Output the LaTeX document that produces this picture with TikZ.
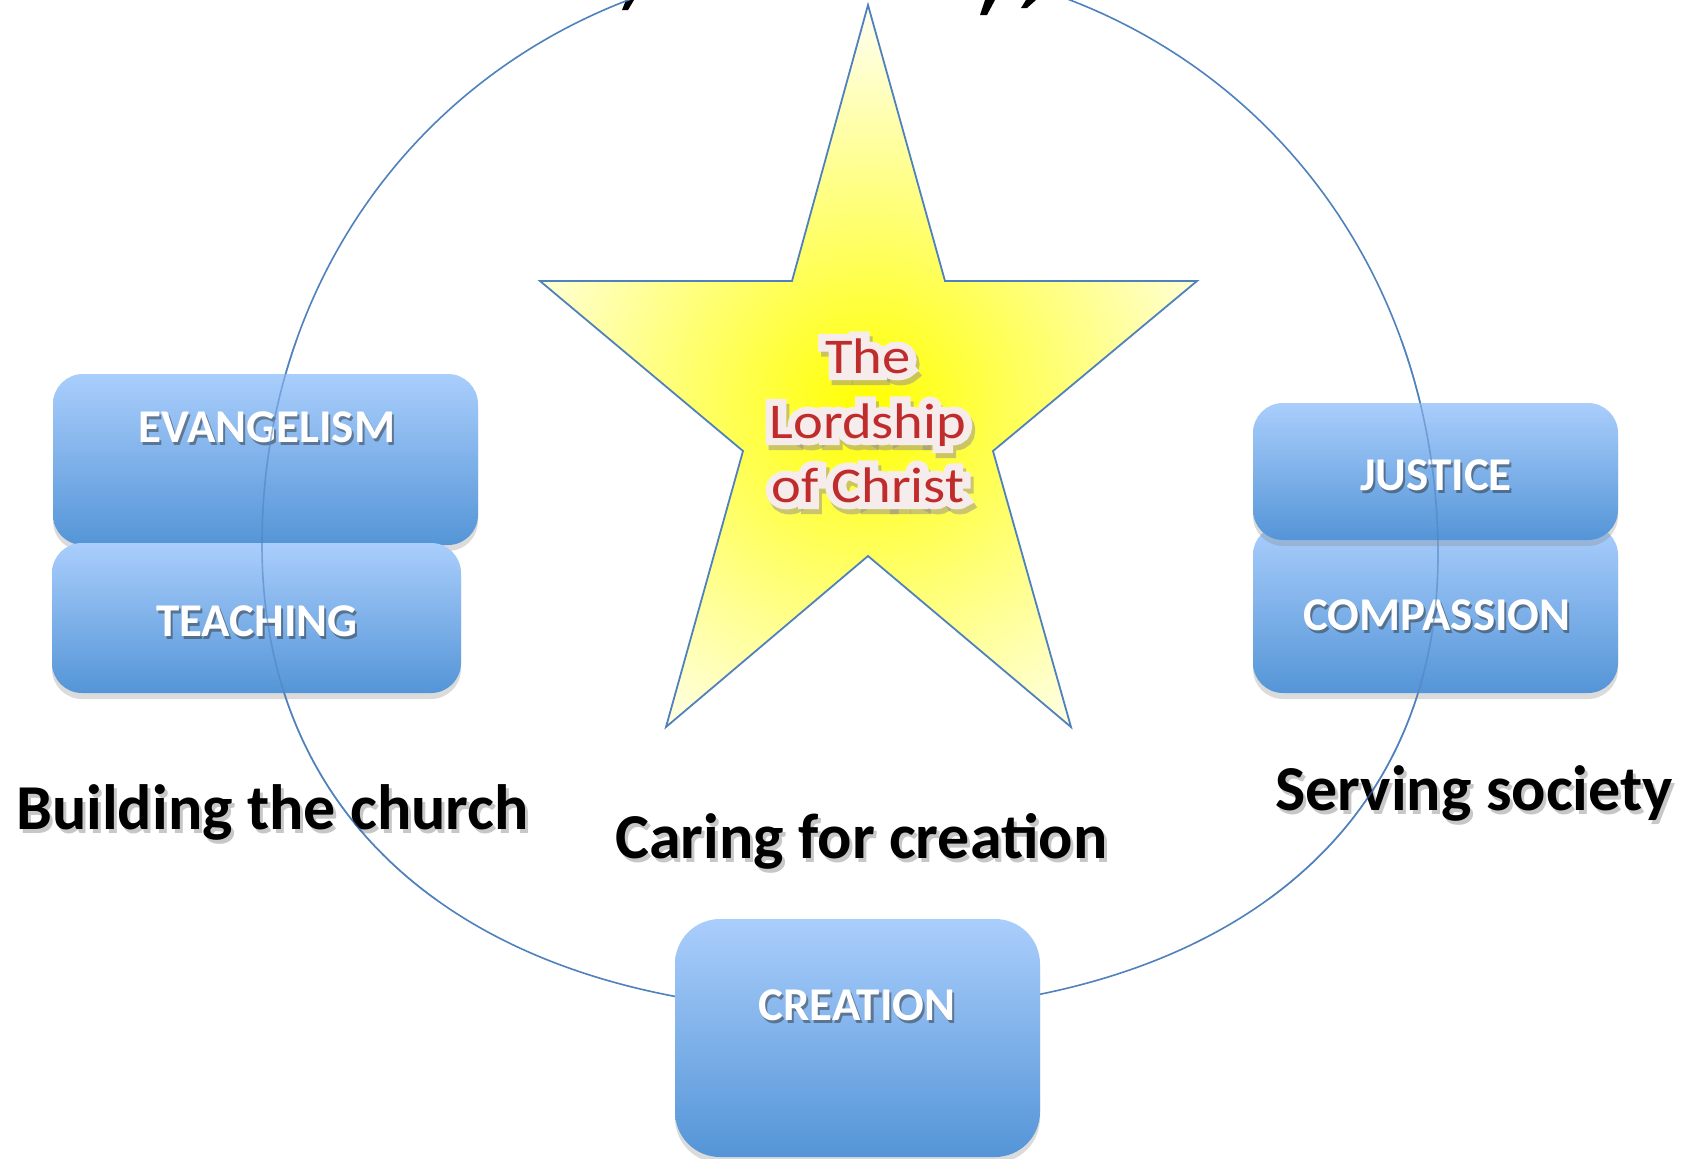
\documentclass[tikz,border=0pt]{standalone}
\usepackage{fontspec}
\setmainfont{Carlito}
\newfontfamily\halofont[FakeBold=28]{Carlito}
\usetikzlibrary{shadows}

\definecolor{ringc}{RGB}{79,129,189}
\definecolor{boxtop}{RGB}{170,206,252}
\definecolor{boxbot}{RGB}{84,149,215}
\definecolor{lordred}{RGB}{192,44,44}
\definecolor{haloc}{RGB}{246,236,236}
\definecolor{haloshadow}{RGB}{150,140,140}

\tikzset{
  ring/.style={draw=ringc, line width=1.6pt},
  mbox/.style={draw=none, rounded corners=#1, top color=boxtop, bottom color=boxbot, inner sep=0pt,
    drop shadow={shadow xshift=0pt, shadow yshift=-6pt, opacity=0.28}},
  boxlab/.style={text=white, inner sep=0pt, font=\fontsize{47}{50}\selectfont\bfseries},
  biglab/.style={text=black, inner sep=0pt, font=\fontsize{64}{70}\selectfont\bfseries},
  startxt/.style={inner sep=0pt, font=\fontsize{50}{55}\selectfont},
  halotxt/.style={inner sep=0pt, font=\fontsize{50}{55}\halofont},
  starline/.style={draw=ringc, line width=1.8pt, line join=miter},
}

\newcommand\wlabel[4]{%
  \node[boxlab, text=black!85, opacity=0.45, anchor=base, xshift=2pt, yshift=-3pt] at (#2,#3) {#4};
  \node[boxlab, anchor=base] (#1) at (#2,#3) {#4};
}
\newcommand\blabel[4]{%
  \node[biglab, text=black, opacity=0.22, anchor=base west, xshift=3pt, yshift=-4pt] at (#2,#3) {#4};
  \node[biglab, anchor=base west] (#1) at (#2,#3) {#4};
}
\newcommand\slabel[4]{%
  \node[halotxt, text=haloshadow, opacity=0.5, anchor=base, xshift=3pt, yshift=-5pt] at (#2,#3) {\scalebox{1.13}[1]{#4}};
  \node[halotxt, text=haloc, anchor=base] at (#2,#3) {\scalebox{1.13}[1]{#4}};
  \node[startxt, text=lordred, anchor=base] (#1) at (#2,#3) {\scalebox{1.13}[1]{#4}};
}

\begin{document}
\begin{tikzpicture}[x=1pt,y=-1pt]
\useasboundingbox (0,0) rectangle (1684,1159);
\clip (0,0) rectangle (1684,1159);
\fill[white] (0,0) rectangle (1684,1159);

% cut-off title marks at the top edge
\fill[black] (626,0) -- (634,0) -- (628,10) -- (622,10) -- cycle;
\fill[black] (985,0) -- (995,0) -- (987,15) -- (980,15) -- cycle;
\fill[black] (1026,0) -- (1036,0) -- (1027,8) -- (1021,8) -- cycle;

% ring
\draw[ring] (850,-40) .. controls (1185,-40) and (1438,216) .. (1438,555)
  .. controls (1438,838) and (1215,1012) .. (852,1012)
  .. controls (486,1012) and (262,835) .. (262,545)
  .. controls (262,212) and (515,-40) .. (850,-40) -- cycle;

% star
\coordinate (s1) at (868,5);
\coordinate (s2) at (945,281);
\coordinate (s3) at (1197,281);
\coordinate (s4) at (993,451);
\coordinate (s5) at (1071,727);
\coordinate (s6) at (868,556);
\coordinate (s7) at (666,727);
\coordinate (s8) at (743,451);
\coordinate (s9) at (540,281);
\coordinate (s10) at (792,281);
\begin{scope}
  \clip (s1) -- (s2) -- (s3) -- (s4) -- (s5) -- (s6) -- (s7) -- (s8) -- (s9) -- (s10) -- cycle;
  \fill[white] (500,0) rectangle (1240,740);
  \shade[inner color=yellow, outer color=white] (868,405) circle (420);
\end{scope}
\draw[starline] (s1) -- (s2) -- (s3) -- (s4) -- (s5) -- (s6) -- (s7) -- (s8) -- (s9) -- (s10) -- cycle;

\slabel{the}{868}{373}{The}
\slabel{lordship}{868}{438}{Lordship}
\slabel{ofchrist}{868}{502}{of Christ}

% boxes
\node[mbox=30pt, minimum width=425pt, minimum height=171pt] (evbox) at (265.5,459.5) {};
\node[mbox=30pt, minimum width=409pt, minimum height=150pt] (teabox) at (256.5,618) {};
\node[mbox=30pt, minimum width=365pt, minimum height=168pt] (combox) at (1435.5,609) {};
\node[mbox=30pt, minimum width=365pt, minimum height=137pt] (jusbox) at (1435.5,471.5) {};
\node[mbox=45pt, minimum width=365pt, minimum height=238pt] (crebox) at (857.5,1038) {};

\wlabel{ev}{267}{442}{EVANGELISM}
\wlabel{tea}{257}{636}{TEACHING}
\wlabel{jus}{1436}{490}{JUSTICE}
\wlabel{com}{1437}{630}{COMPASSION}
\wlabel{cre}{857}{1020}{CREATION}

% section captions
\blabel{build}{16}{829}{Building the church}
\blabel{care}{615}{858}{Caring for creation}
\blabel{serve}{1275}{810}{Serving society}

% ring seen through boxes and over captions
\begin{scope}
  \clip (0,340) rectangle (620,900) (1100,340) rectangle (1684,900);
  \draw[ring, draw opacity=0.55] (850,-40) .. controls (1185,-40) and (1438,216) .. (1438,555)
    .. controls (1438,838) and (1215,1012) .. (852,1012)
    .. controls (486,1012) and (262,835) .. (262,545)
    .. controls (262,212) and (515,-40) .. (850,-40) -- cycle;
\end{scope}
\end{tikzpicture}
\end{document}
